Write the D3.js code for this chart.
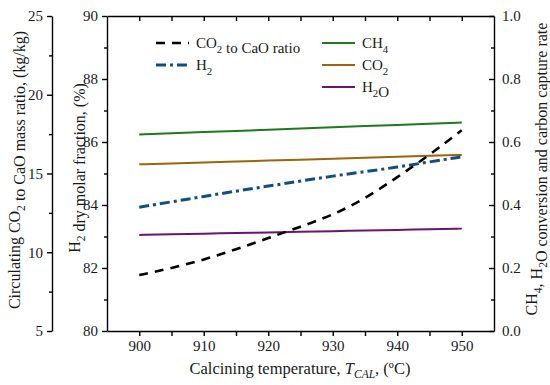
<!DOCTYPE html>
<html lang="en">
	<head>
		<meta charset="UTF-8" />
		<title>Calcining temperature</title>
		<script src="https://d3js.org/d3.v7.min.js"></script>
		<style>
			body {
				margin: 0;
				background: #fff;
			}
			svg text,
			svg tspan {
				font-family: "Liberation Serif", "DejaVu Serif", "Times New Roman", Times, serif;
				fill: #1a1a1a;
			}
			.axis path,
			.axis line {
				stroke: #000;
				stroke-width: 1.4;
			}
			.axis text {
				font-size: 15px;
			}
		</style>
	</head>
	<body>
		<svg width="550" height="385" font-family="Liberation Serif"></svg>

		<script>
			// Data
			const TEMPS = [900, 905, 910, 915, 920, 925, 930, 935, 940, 945, 950];
			const RATIO = [8.55, 8.99, 9.52, 10.18, 10.9, 11.62, 12.36, 13.4, 14.76, 16.17, 17.75];
			const H2 = [83.93, 84.1, 84.27, 84.44, 84.6, 84.76, 84.92, 85.06, 85.2, 85.37, 85.53];
			const CH4 = [0.624, 0.628, 0.632, 0.635, 0.639, 0.643, 0.647, 0.651, 0.654, 0.658, 0.662];
			const CO2 = [0.529, 0.532, 0.535, 0.538, 0.541, 0.544, 0.547, 0.55, 0.553, 0.556, 0.559];
			const H2O = [0.305, 0.307, 0.309, 0.311, 0.313, 0.315, 0.317, 0.319, 0.321, 0.323, 0.325];

			const X_TICKS = [900, 905, 910, 915, 920, 925, 930, 935, 940, 945, 950];
			const H2_TICKS = [80, 81, 82, 83, 84, 85, 86, 87, 88, 89, 90];
			const RATIO_TICKS = [5, 7.5, 10, 12.5, 15, 17.5, 20, 22.5, 25];
			const CONV_TICKS = [0, 0.1, 0.2, 0.3, 0.4, 0.5, 0.6, 0.7, 0.8, 0.9, 1.0];

			// Layout
			const LEFT = 107, RIGHT = 494, TOP = 16, BOTTOM = 331, OUTER = 52;

			const x = d3.scaleLinear().domain([895, 955]).range([LEFT, RIGHT]);
			const yH2 = d3.scaleLinear().domain([80, 90]).range([BOTTOM, TOP]);
			const yRatio = d3.scaleLinear().domain([5, 25]).range([BOTTOM, TOP]);
			const yConv = d3.scaleLinear().domain([0, 1]).range([BOTTOM, TOP]);

			const svg = d3.select("svg");

			// Axes
			svg.append("g")
				.attr("class", "axis")
				.attr("transform", `translate(0, ${BOTTOM})`)
				.call(d3.axisBottom(x).tickValues(X_TICKS).tickSize(5).tickSizeOuter(0).tickPadding(4)
					.tickFormat((d) => (d % 10 === 0 ? d : "")));

			svg.append("g")
				.attr("class", "axis")
				.attr("transform", `translate(0, ${TOP})`)
				.call(d3.axisTop(x).tickValues(X_TICKS).tickSize(-5).tickSizeOuter(0).tickFormat(""));

			svg.append("g")
				.attr("class", "axis")
				.attr("transform", `translate(${LEFT}, 0)`)
				.call(d3.axisLeft(yH2).tickValues(H2_TICKS).tickSize(5).tickSizeOuter(0).tickPadding(4)
					.tickFormat((d) => (d % 2 === 0 ? d : "")));

			svg.append("g")
				.attr("class", "axis")
				.attr("transform", `translate(${OUTER}, 0)`)
				.call(d3.axisLeft(yRatio).tickValues(RATIO_TICKS).tickSize(5).tickSizeOuter(0).tickPadding(4)
					.tickFormat((d) => (d % 5 === 0 ? d : "")));

			svg.append("g")
				.attr("class", "axis")
				.attr("transform", `translate(${RIGHT}, 0)`)
				.call(d3.axisRight(yConv).tickValues(CONV_TICKS).tickSize(-5).tickSizeOuter(0).tickPadding(8)
					.tickFormat((d, i) => (i % 2 === 0 ? d3.format(".1f")(d) : "")));

			// drop d3's default sans-serif so the serif face applies
			svg.selectAll(".axis").attr("font-family", null).attr("font-size", null);

			// shorter minor ticks on y axes
			svg.selectAll(".axis .tick").filter(function () {
				return d3.select(this).select("text").text() === "";
			}).select("line").each(function () {
				const l = d3.select(this);
				if (l.attr("x2") !== null && +l.attr("x2") !== 0) l.attr("x2", +l.attr("x2") * 0.6);
			});

			// Lines
			const series = [
				{ vals: CH4, y: yConv, color: "#1d7a1d", width: 2, dash: null },
				{ vals: CO2, y: yConv, color: "#9a6410", width: 2, dash: null },
				{ vals: H2O, y: yConv, color: "#6a1570", width: 2, dash: null },
				{ vals: H2, y: yH2, color: "#0f4f82", width: 3, dash: "10,4,3,4" },
				{ vals: RATIO, y: yRatio, color: "#000", width: 2.6, dash: "9,7" },
			];

			series.forEach((s) => {
				const line = d3.line()
					.x((d, i) => x(TEMPS[i]))
					.y((d) => s.y(d))
					.curve(d3.curveBasis);
				svg.append("path")
					.datum(s.vals)
					.attr("d", line)
					.attr("fill", "none")
					.attr("stroke", s.color)
					.attr("stroke-width", s.width)
					.attr("stroke-dasharray", s.dash);
			});

			// Legend
			function chem(sel, parts, size) {
				parts.forEach((p) => {
					if (p.sub) {
						sel.append("tspan").attr("dy", size * 0.3).attr("font-size", size * 0.72).text(p.sub);
						sel.append("tspan").attr("dy", -size * 0.3).text("");
					} else {
						sel.append("tspan").text(p.t);
					}
				});
			}

			const legend = [
				{ x1: 156, y: 43, color: "#000", width: 2.6, dash: "9,7", parts: [{ t: "CO" }, { sub: "2" }, { t: " to CaO ratio" }] },
				{ x1: 156, y: 65, color: "#0f4f82", width: 3, dash: "10,4,3,4", parts: [{ t: "H" }, { sub: "2" }] },
				{ x1: 322, y: 43, color: "#1d7a1d", width: 2, dash: null, parts: [{ t: "CH" }, { sub: "4" }] },
				{ x1: 322, y: 65, color: "#9a6410", width: 2, dash: null, parts: [{ t: "CO" }, { sub: "2" }] },
				{ x1: 322, y: 87, color: "#6a1570", width: 2, dash: null, parts: [{ t: "H" }, { sub: "2" }, { t: "O" }] },
			];

			legend.forEach((l) => {
				svg.append("line")
					.attr("x1", l.x1).attr("x2", l.x1 + 33)
					.attr("y1", l.y).attr("y2", l.y)
					.attr("stroke", l.color)
					.attr("stroke-width", l.width)
					.attr("stroke-dasharray", l.dash);
				const t = svg.append("text")
					.attr("x", l.x1 + 40).attr("y", l.y + 5)
					.attr("font-size", 15);
				chem(t, l.parts, 15);
			});

			// Axis titles
			const xt = svg.append("text")
				.attr("x", 300).attr("y", 374)
				.attr("text-anchor", "middle")
				.attr("font-size", 16.5);
			xt.append("tspan").text("Calcining temperature,  ");
			xt.append("tspan").attr("font-style", "italic").text("T");
			xt.append("tspan").attr("font-style", "italic").attr("dy", 4).attr("font-size", 11.5).text("CAL");
			xt.append("tspan").attr("dy", -4).text(", (ºC)");

			const t1 = svg.append("text")
				.attr("transform", "translate(20, 170) rotate(-90)")
				.attr("text-anchor", "middle")
				.attr("font-size", 16);
			chem(t1, [{ t: "Circulating CO" }, { sub: "2" }, { t: " to CaO mass ratio, (kg/kg)" }], 16);

			const t2 = svg.append("text")
				.attr("transform", "translate(80, 168) rotate(-90)")
				.attr("text-anchor", "middle")
				.attr("font-size", 16);
			chem(t2, [{ t: "H" }, { sub: "2" }, { t: " dry molar fraction, (%)" }], 16);

			const t3 = svg.append("text")
				.attr("transform", "translate(537, 169) rotate(-90)")
				.attr("text-anchor", "middle")
				.attr("font-size", 16);
			chem(t3, [{ t: "CH" }, { sub: "4" }, { t: ", H" }, { sub: "2" }, { t: "O conversion and carbon capture rate" }], 16);
		</script>
	</body>
</html>
